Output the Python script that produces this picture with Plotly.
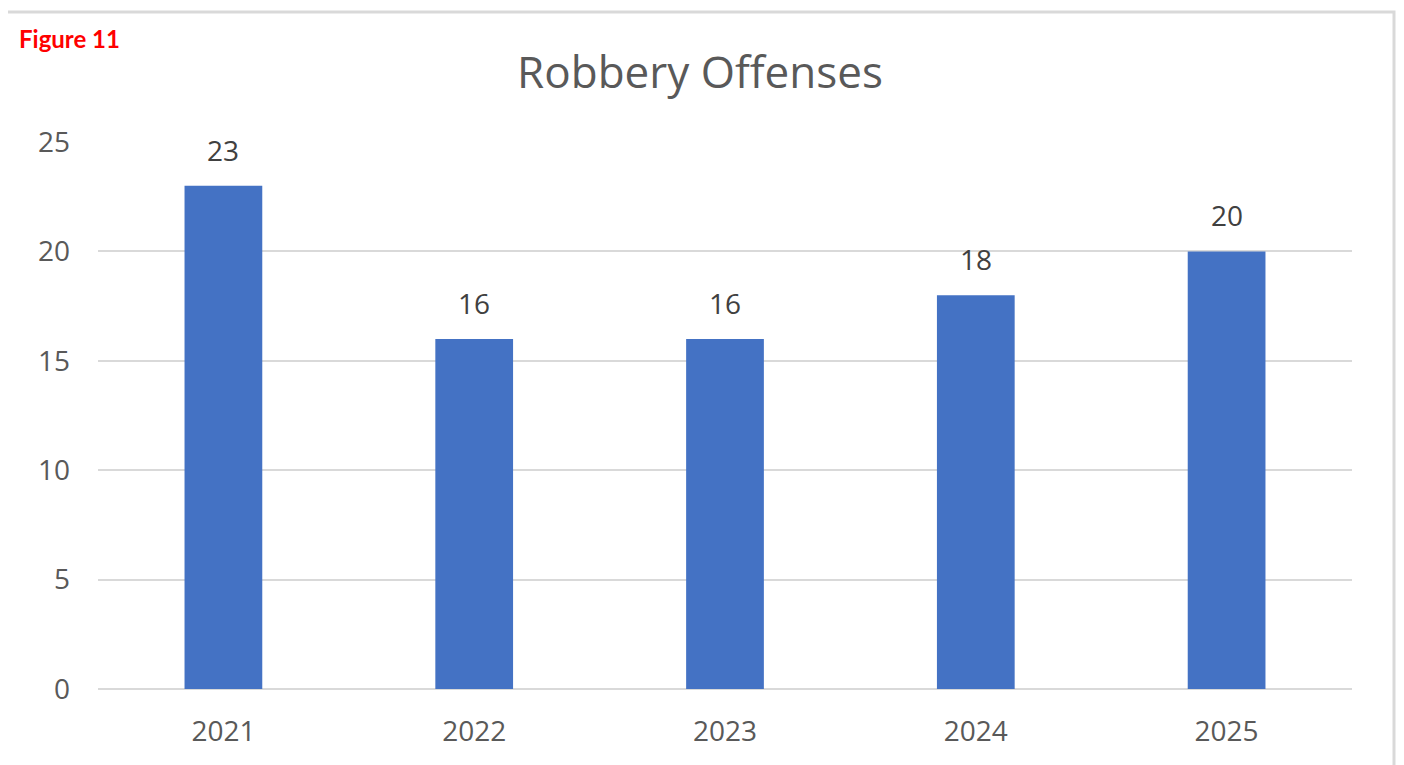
import plotly.graph_objects as go

years = ["2021", "2022", "2023", "2024", "2025"]
offenses = [23, 16, 16, 18, 20]
y_ticks = [0, 5, 10, 15, 20, 25]

# page body has an 8px margin; work in reference pixel coords and shift
OFF = 8
W, H = 1404 - OFF, 765 - OFF
plot_left, plot_right, plot_top, plot_bottom = 98 - OFF, 1352 - OFF, 142 - OFF, 689 - OFF
L, R, T, B = plot_left, W - plot_right, plot_top, H - plot_bottom
pw, ph = W - L - R, H - T - B

def px_x(x):
    return (x - OFF - L) / pw

def px_y(y):
    return (plot_bottom - (y - OFF)) / ph

FONT = "Open Sans"
GREY = "#595959"

fig = go.Figure()
fig.add_trace(go.Bar(
    x=years, y=offenses,
    marker=dict(color="#4472C4", line=dict(width=0)),
    hoverinfo="x+y",
))

for i, v in enumerate(offenses):
    fig.add_annotation(x=i, y=v, xref="x", yref="y", text=str(v),
                       showarrow=False, yanchor="bottom", yshift=15,
                       font=dict(family=FONT, size=28, color="#404040"))

fig.add_annotation(xref="paper", yref="paper", x=px_x(17), y=px_y(38),
                   xanchor="left", yanchor="middle", text="<b>Figure 11</b>",
                   showarrow=False,
                   font=dict(family="Lato", size=24, color="#FF0000"))

fig.add_shape(type="rect", xref="paper", yref="paper",
              x0=px_x(6), x1=px_x(1394), y0=px_y(12), y1=px_y(790),
              line=dict(color="#D9D9D9", width=3), fillcolor="rgba(0,0,0,0)",
              layer="below")

fig.update_layout(
    width=W, height=H,
    margin=dict(l=L, r=R, t=T, b=B, autoexpand=False),
    paper_bgcolor="white", plot_bgcolor="white",
    title=dict(text="Robbery Offenses", x=(700 - OFF) / W, xref="container", xanchor="center",
               y=1 - (73 - OFF) / H, yref="container", yanchor="middle",
               font=dict(family=FONT, size=44, color=GREY)),
    bargap=0.69,
    showlegend=False,
    font=dict(family=FONT, color=GREY),
)
fig.update_xaxes(type="category", range=[-0.5, len(years) - 0.5],
                 showgrid=False, showline=False, ticks="",
                 tickfont=dict(size=28, color=GREY, family=FONT),
                 ticklabelstandoff=23)
fig.update_yaxes(range=[0, 25], tickvals=y_ticks, showgrid=True,
                 gridcolor="#D9D9D9", gridwidth=2,
                 zeroline=True, zerolinecolor="#D9D9D9", zerolinewidth=2,
                 showline=False, ticks="",
                 tickfont=dict(size=28, color=GREY, family=FONT),
                 ticklabelstandoff=27)

fig.write_html("out.html")
